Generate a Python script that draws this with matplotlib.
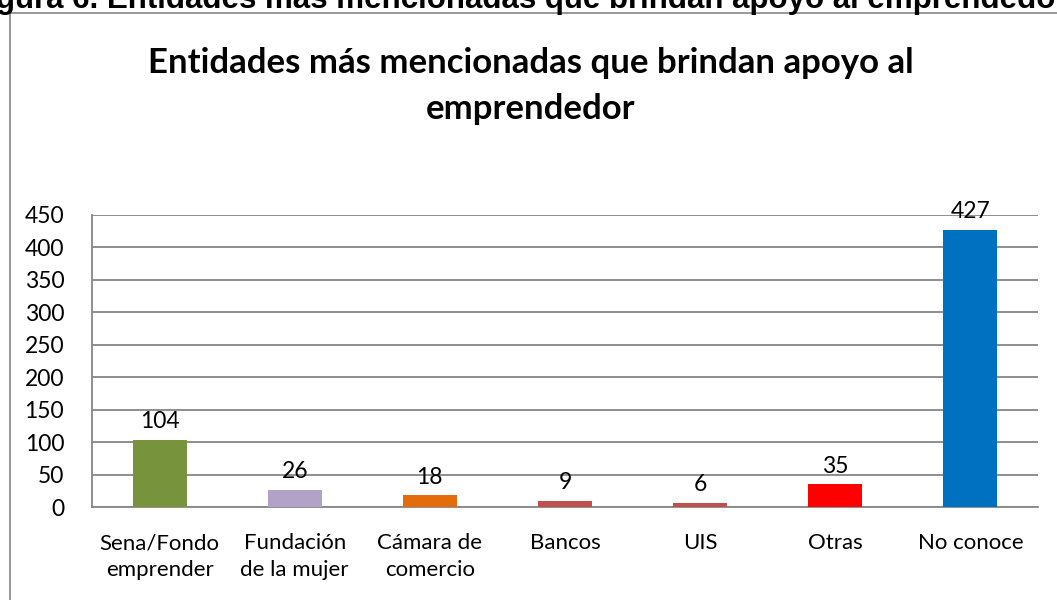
import matplotlib
matplotlib.use('Agg')
import matplotlib.pyplot as plt
from matplotlib.patches import Rectangle

categorias = ["Sena/Fondo\nemprender", "Fundación\nde la mujer", "Cámara de\ncomercio",
              "Bancos", "UIS", "Otras", "No conoce"]
valores = [104, 26, 18, 9, 6, 35, 427]
colores = ["#77933C", "#B3A2C7", "#E46C0A", "#C0504D", "#C0504D", "#FF0000", "#0070C0"]
yticks = [0, 50, 100, 150, 200, 250, 300, 350, 400, 450]

plt.rcParams['font.family'] = ['Lato', 'DejaVu Sans']

fig = plt.figure(figsize=(10.57, 6), dpi=100)

# marco del grafico
fig.patches.append(Rectangle((10 / 1057, -0.1), 1.2, 1.1 - 13 / 600, transform=fig.transFigure,
                             fill=False, edgecolor="#868686", linewidth=1.2))

# encabezado cortado arriba
fig.text(-0.004, 1 - 8 / 600, "gura 6. Entidades más mencionadas que brindan apoyo al emprendedor",
         ha="left", va="baseline", fontsize=22.5, fontweight="bold",
         family=["Liberation Sans", "DejaVu Sans"])

fig.text(0.502, 1 - 86 / 600, "Entidades más mencionadas que brindan apoyo al\nemprendedor",
         ha="center", va="center", fontsize=25, fontweight="bold", linespacing=1.55)

ax = fig.add_axes([92 / 1057, 93 / 600, 946 / 1057, 292 / 600])
x = range(len(categorias))
bars = ax.bar(x, valores, width=0.4, color=colores, zorder=3)
for b, v in zip(bars, valores):
    ax.text(b.get_x() + b.get_width() / 2, v + 18, str(v), ha="center", va="baseline", fontsize=16.5)

ax.set_xlim(-0.5, len(categorias) - 0.5)
ax.set_ylim(0, 450)
ax.set_yticks(yticks)
ax.set_xticks(list(x))
ax.set_xticklabels(categorias, fontsize=16, linespacing=1.4)
ax.tick_params(axis="y", labelsize=16.5, length=0, pad=20)
ax.tick_params(axis="x", length=0, pad=19)
ax.yaxis.grid(True, color="#868686", linewidth=1.3, zorder=0)
for s in ["top", "right"]:
    ax.spines[s].set_visible(False)
for s in ["left", "bottom"]:
    ax.spines[s].set_color("#868686")
    ax.spines[s].set_linewidth(1.3)

fig.savefig("out.png", dpi=100)
